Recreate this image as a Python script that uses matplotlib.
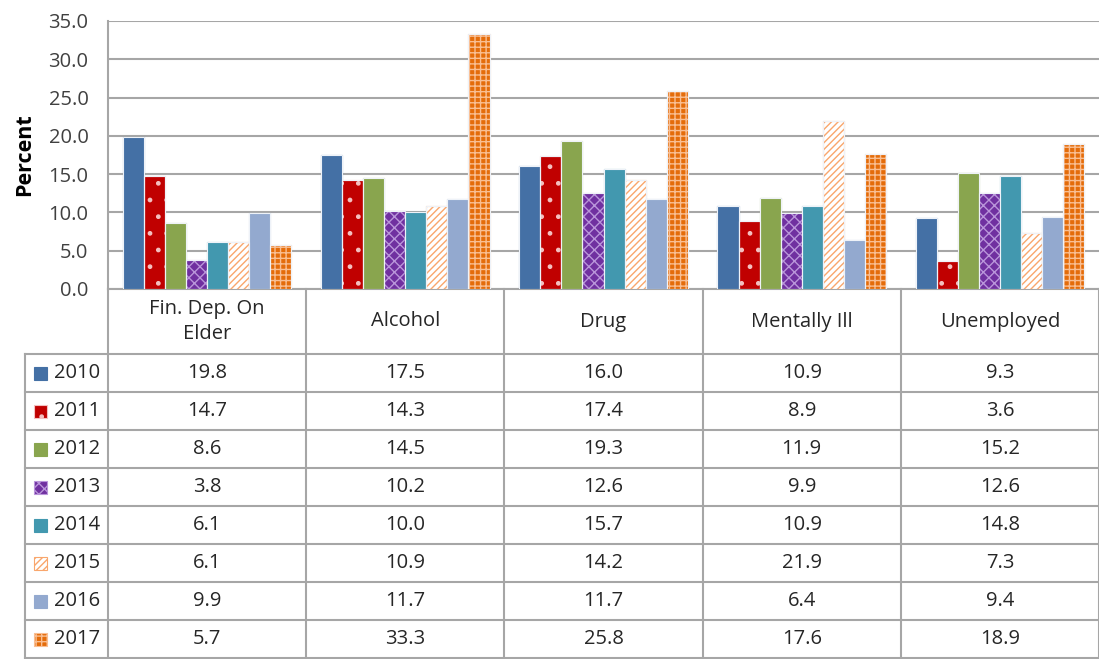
import matplotlib.pyplot as plt
from matplotlib.patches import Rectangle
import numpy as np

plt.rcParams['font.family'] = ['Open Sans', 'DejaVu Sans']
plt.rcParams['hatch.linewidth'] = 1.0

categories = ["Fin. Dep. On\nElder", "Alcohol", "Drug", "Mentally Ill", "Unemployed"]
years = ["2010", "2011", "2012", "2013", "2014", "2015", "2016", "2017"]
v2010 = [19.8, 17.5, 16.0, 10.9, 9.3]
v2011 = [14.7, 14.3, 17.4, 8.9, 3.6]
v2012 = [8.6, 14.5, 19.3, 11.9, 15.2]
v2013 = [3.8, 10.2, 12.6, 9.9, 12.6]
v2014 = [6.1, 10.0, 15.7, 10.9, 14.8]
v2015 = [6.1, 10.9, 14.2, 21.9, 7.3]
v2016 = [9.9, 11.7, 11.7, 6.4, 9.4]
v2017 = [5.7, 33.3, 25.8, 17.6, 18.9]
series = [v2010, v2011, v2012, v2013, v2014, v2015, v2016, v2017]

# (facecolor, hatch color, hatch)
styles = [
    ("#4470A5", "#4470A5", None),
    ("#C00000", "#F4C0C0", "."),
    ("#89A54E", "#89A54E", None),
    ("#7030A0", "#B995DA", "xxx"),
    ("#4298AF", "#4298AF", None),
    ("white", "#F9A66C", "/////"),
    ("#93A9CF", "#93A9CF", None),
    ("#E46C0A", "#F9BE92", "+++"),
]

W, H = 1099, 659
fig = plt.figure(figsize=(W / 100, H / 100), dpi=100)

# table / frame layer in pixel coordinates
axt = fig.add_axes([0, 0, 1, 1])
axt.set_xlim(0, W)
axt.set_ylim(H, 0)
axt.axis("off")

x0, x1 = 108, 1099
y_top, y_base = 21, 289
ax = fig.add_axes([x0 / W, (H - y_base) / H, (x1 - x0) / W, (y_base - y_top) / H])
ax.set_zorder(2)
ax.patch.set_alpha(0)

n = len(series)
bw = 0.85 / n
xs = np.arange(len(categories))
for i, (vals, (fc, hc, hatch)) in enumerate(zip(series, styles)):
    pos = xs - 0.425 + bw * (i + 0.5)
    ax.bar(pos, vals, bw, color=fc, edgecolor=hc, hatch=hatch, linewidth=0.8, zorder=3)
    # light outline like the Excel bars
    ax.bar(pos, vals, bw, fill=False, edgecolor="#EEF2F8", linewidth=0.8, zorder=4)

ax.set_xlim(-0.5, len(categories) - 0.5)
ax.set_ylim(0, 35)
ax.set_yticks(np.arange(0, 35.1, 5))
ax.set_yticklabels([f"{t:.1f}" for t in np.arange(0, 35.1, 5)], fontsize=14.5, color="#404040")
ax.set_xticks([])
ax.grid(axis="y", color="#A6A6A6", linewidth=1.5, zorder=0)
ax.tick_params(axis="y", length=0, pad=14)
for s in ["top", "right", "bottom"]:
    ax.spines[s].set_visible(False)
ax.spines["left"].set_color("#A6A6A6")
ax.spines["left"].set_linewidth(1.5)
ax.set_ylabel("Percent", fontsize=15.5, fontweight="bold", labelpad=10)

# data table
lc = "#A6A6A6"
cw = (x1 - x0) / len(categories)
row_h = 38
y_hdr = 354
for k in range(len(categories) + 1):
    xx = x0 + k * cw
    axt.plot([xx, xx], [y_base, y_hdr + row_h * n], color=lc, lw=1.5)
axt.plot([x0, x1], [y_base, y_base], color=lc, lw=1.5)
axt.plot([25, 25], [y_hdr, y_hdr + row_h * n], color=lc, lw=1.5)
for r in range(n + 1):
    yy = y_hdr + r * row_h
    axt.plot([25, x1], [yy, yy], color=lc, lw=1.5)

for k, c in enumerate(categories):
    axt.text(x0 + (k + 0.5) * cw, (y_base + y_hdr) / 2, c, ha="center", va="center",
             fontsize=14.5, color="#262626", linespacing=1.35)

for r, (yr, vals, (fc, hc, hatch)) in enumerate(zip(years, series, styles)):
    yc = y_hdr + (r + 0.5) * row_h
    axt.add_patch(Rectangle((34, yc - 6), 13, 13, facecolor=fc, edgecolor=hc,
                            hatch=hatch, linewidth=0.8))
    axt.text(54, yc, yr, ha="left", va="center", fontsize=14.5, color="#262626")
    for k, v in enumerate(vals):
        axt.text(x0 + (k + 0.5) * cw, yc, f"{v:.1f}", ha="center", va="center",
                 fontsize=14.5, color="#262626")

fig.savefig("out.png", dpi=100)
